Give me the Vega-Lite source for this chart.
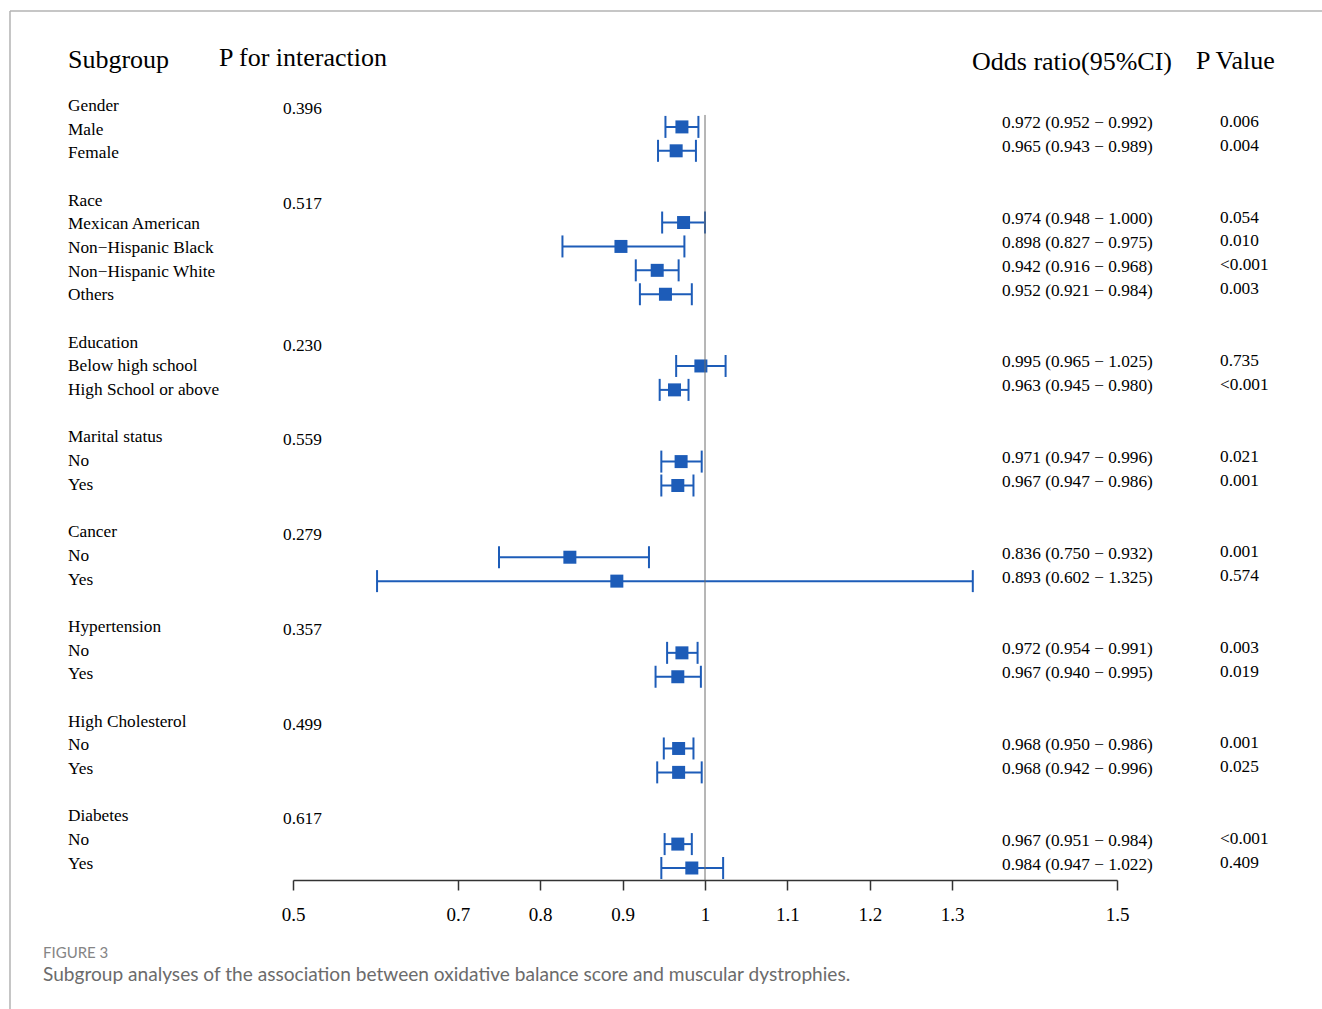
{
  "$schema": "https://vega.github.io/schema/vega-lite/v6.json",
  "width": 1322,
  "height": 880,
  "autosize": {"type": "none"},
  "padding": {"left": 0, "top": 0, "right": 0, "bottom": 129},
  "background": "white",
  "config": {
    "view": {"stroke": null},
    "axisX": {"grid": false, "domainColor": "#333333", "domainWidth": 1.5, "tickColor": "#333333", "tickWidth": 1.5, "tickSize": 10,
      "labelFont": "Liberation Serif", "labelFontSize": 19, "labelColor": "#000000", "labelPadding": 15, "labelFlush": false, "labelOverlap": false}
  },
  "datasets": {
    "labels": [
      {"row": 0, "label": "Gender"}, {"row": 1, "label": "Male"}, {"row": 2, "label": "Female"},
      {"row": 4, "label": "Race"}, {"row": 5, "label": "Mexican American"}, {"row": 6, "label": "Non−Hispanic Black"}, {"row": 7, "label": "Non−Hispanic White"}, {"row": 8, "label": "Others"},
      {"row": 10, "label": "Education"}, {"row": 11, "label": "Below high school"}, {"row": 12, "label": "High School or above"},
      {"row": 14, "label": "Marital status"}, {"row": 15, "label": "No"}, {"row": 16, "label": "Yes"},
      {"row": 18, "label": "Cancer"}, {"row": 19, "label": "No"}, {"row": 20, "label": "Yes"},
      {"row": 22, "label": "Hypertension"}, {"row": 23, "label": "No"}, {"row": 24, "label": "Yes"},
      {"row": 26, "label": "High Cholesterol"}, {"row": 27, "label": "No"}, {"row": 28, "label": "Yes"},
      {"row": 30, "label": "Diabetes"}, {"row": 31, "label": "No"}, {"row": 32, "label": "Yes"}
    ],
    "pint": [
      {"row": 0, "p": "0.396"}, {"row": 4, "p": "0.517"}, {"row": 10, "p": "0.230"}, {"row": 14, "p": "0.559"},
      {"row": 18, "p": "0.279"}, {"row": 22, "p": "0.357"}, {"row": 26, "p": "0.499"}, {"row": 30, "p": "0.617"}
    ],
    "est": [
      {"row": 1, "or": 0.972, "lo": 0.952, "hi": 0.992, "ci": "0.972 (0.952 − 0.992)", "p": "0.006"},
      {"row": 2, "or": 0.965, "lo": 0.943, "hi": 0.989, "ci": "0.965 (0.943 − 0.989)", "p": "0.004"},
      {"row": 5, "or": 0.974, "lo": 0.948, "hi": 1.000, "ci": "0.974 (0.948 − 1.000)", "p": "0.054"},
      {"row": 6, "or": 0.898, "lo": 0.827, "hi": 0.975, "ci": "0.898 (0.827 − 0.975)", "p": "0.010"},
      {"row": 7, "or": 0.942, "lo": 0.916, "hi": 0.968, "ci": "0.942 (0.916 − 0.968)", "p": "<0.001"},
      {"row": 8, "or": 0.952, "lo": 0.921, "hi": 0.984, "ci": "0.952 (0.921 − 0.984)", "p": "0.003"},
      {"row": 11, "or": 0.995, "lo": 0.965, "hi": 1.025, "ci": "0.995 (0.965 − 1.025)", "p": "0.735"},
      {"row": 12, "or": 0.963, "lo": 0.945, "hi": 0.980, "ci": "0.963 (0.945 − 0.980)", "p": "<0.001"},
      {"row": 15, "or": 0.971, "lo": 0.947, "hi": 0.996, "ci": "0.971 (0.947 − 0.996)", "p": "0.021"},
      {"row": 16, "or": 0.967, "lo": 0.947, "hi": 0.986, "ci": "0.967 (0.947 − 0.986)", "p": "0.001"},
      {"row": 19, "or": 0.836, "lo": 0.750, "hi": 0.932, "ci": "0.836 (0.750 − 0.932)", "p": "0.001"},
      {"row": 20, "or": 0.893, "lo": 0.602, "hi": 1.325, "ci": "0.893 (0.602 − 1.325)", "p": "0.574"},
      {"row": 23, "or": 0.972, "lo": 0.954, "hi": 0.991, "ci": "0.972 (0.954 − 0.991)", "p": "0.003"},
      {"row": 24, "or": 0.967, "lo": 0.940, "hi": 0.995, "ci": "0.967 (0.940 − 0.995)", "p": "0.019"},
      {"row": 27, "or": 0.968, "lo": 0.950, "hi": 0.986, "ci": "0.968 (0.950 − 0.986)", "p": "0.001"},
      {"row": 28, "or": 0.968, "lo": 0.942, "hi": 0.996, "ci": "0.968 (0.942 − 0.996)", "p": "0.025"},
      {"row": 31, "or": 0.967, "lo": 0.951, "hi": 0.984, "ci": "0.967 (0.951 − 0.984)", "p": "<0.001"},
      {"row": 32, "or": 0.984, "lo": 0.947, "hi": 1.022, "ci": "0.984 (0.947 − 1.022)", "p": "0.409"}
    ]
  },
  "layer": [
    {
      "data": {"name": "est"},
      "mark": {"type": "rule", "color": "#1d5cb8", "strokeWidth": 2},
      "encoding": {
        "x": {"field": "lo", "type": "quantitative",
          "scale": {"domain": [0.5, 1.5], "range": [293, 1117], "zero": false, "nice": false},
          "axis": {"values": [0.5, 0.7, 0.8, 0.9, 1, 1.1, 1.2, 1.3, 1.5], "format": "~g", "title": null}},
        "x2": {"field": "hi"},
        "y": {"field": "row", "type": "quantitative", "scale": {"domain": [0, 32], "range": [103, 868], "zero": false, "nice": false}, "axis": null}
      }
    },
    {
      "data": {"name": "est"},
      "mark": {"type": "tick", "orient": "vertical", "color": "#1d5cb8", "size": 22, "thickness": 2, "opacity": 1},
      "encoding": {
        "x": {"field": "lo", "type": "quantitative", "axis": {"values": [0.5, 0.7, 0.8, 0.9, 1, 1.1, 1.2, 1.3, 1.5], "format": "~g", "title": null}},
        "y": {"field": "row", "type": "quantitative", "scale": {"domain": [0, 32], "range": [103, 868], "zero": false, "nice": false}, "axis": null}
      }
    },
    {
      "data": {"name": "est"},
      "mark": {"type": "tick", "orient": "vertical", "color": "#1d5cb8", "size": 22, "thickness": 2, "opacity": 1},
      "encoding": {
        "x": {"field": "hi", "type": "quantitative", "axis": {"values": [0.5, 0.7, 0.8, 0.9, 1, 1.1, 1.2, 1.3, 1.5], "format": "~g", "title": null}},
        "y": {"field": "row", "type": "quantitative", "scale": {"domain": [0, 32], "range": [103, 868], "zero": false, "nice": false}, "axis": null}
      }
    },
    {
      "data": {"name": "est"},
      "mark": {"type": "point", "shape": "square", "filled": true, "color": "#1d5cb8", "size": 169, "opacity": 1},
      "encoding": {
        "x": {"field": "or", "type": "quantitative", "axis": {"values": [0.5, 0.7, 0.8, 0.9, 1, 1.1, 1.2, 1.3, 1.5], "format": "~g", "title": null}},
        "y": {"field": "row", "type": "quantitative", "scale": {"domain": [0, 32], "range": [103, 868], "zero": false, "nice": false}, "axis": null}
      }
    },
    {
      "data": {"name": "est"},
      "mark": {"type": "text", "align": "left", "baseline": "alphabetic", "font": "Liberation Serif", "fontSize": 17.3, "color": "#000000", "dy": 1.5},
      "encoding": {
        "x": {"datum": 1.36044},
        "y": {"field": "row", "type": "quantitative", "scale": {"domain": [0, 32], "range": [103, 868], "zero": false, "nice": false}, "axis": null},
        "text": {"field": "ci"}
      }
    },
    {
      "data": {"name": "est"},
      "mark": {"type": "text", "align": "left", "baseline": "alphabetic", "font": "Liberation Serif", "fontSize": 17.3, "color": "#000000"},
      "encoding": {
        "x": {"datum": 1.625},
        "y": {"field": "row", "type": "quantitative", "scale": {"domain": [0, 32], "range": [103, 868], "zero": false, "nice": false}, "axis": null},
        "text": {"field": "p"}
      }
    },
    {
      "data": {"name": "labels"},
      "mark": {"type": "text", "align": "left", "baseline": "alphabetic", "font": "Liberation Serif", "fontSize": 17.3, "color": "#000000"},
      "encoding": {
        "x": {"datum": 0.22694},
        "y": {"field": "row", "type": "quantitative", "scale": {"domain": [0, 32], "range": [111, 868.64], "zero": false, "nice": false}, "axis": null},
        "text": {"field": "label"}
      }
    },
    {
      "data": {"name": "pint"},
      "mark": {"type": "text", "align": "left", "baseline": "alphabetic", "font": "Liberation Serif", "fontSize": 17.3, "color": "#000000", "dy": 3},
      "encoding": {
        "x": {"datum": 0.48786},
        "y": {"field": "row", "type": "quantitative", "scale": {"domain": [0, 32], "range": [111, 868.64], "zero": false, "nice": false}, "axis": null},
        "text": {"field": "p"}
      }
    },
    {
      "data": {"values": [{"h": "Subgroup"}]},
      "mark": {"type": "text", "align": "left", "baseline": "alphabetic", "font": "Liberation Serif", "fontSize": 26, "color": "#000000"},
      "encoding": {
        "x": {"datum": 0.22694},
        "y": {"datum": -1.464, "scale": {"domain": [0, 32], "range": [103, 868], "zero": false, "nice": false}, "axis": null},
        "text": {"field": "h"}
      }
    },
    {
      "data": {"values": [{"h": "P for interaction"}]},
      "mark": {"type": "text", "align": "left", "baseline": "alphabetic", "font": "Liberation Serif", "fontSize": 26, "color": "#000000"},
      "encoding": {
        "x": {"datum": 0.41019},
        "y": {"datum": -1.535, "scale": {"domain": [0, 32], "range": [103, 868], "zero": false, "nice": false}, "axis": null},
        "text": {"field": "h"}
      }
    },
    {
      "data": {"values": [{"h": "Odds ratio(95%CI)"}]},
      "mark": {"type": "text", "align": "left", "baseline": "alphabetic", "font": "Liberation Serif", "fontSize": 26, "color": "#000000"},
      "encoding": {
        "x": {"datum": 1.32403},
        "y": {"datum": -1.394, "scale": {"domain": [0, 32], "range": [103, 868], "zero": false, "nice": false}, "axis": null},
        "text": {"field": "h"}
      }
    },
    {
      "data": {"values": [{"h": "P Value"}]},
      "mark": {"type": "text", "align": "left", "baseline": "alphabetic", "font": "Liberation Serif", "fontSize": 26, "color": "#000000"},
      "encoding": {
        "x": {"datum": 1.59587},
        "y": {"datum": -1.423, "scale": {"domain": [0, 32], "range": [103, 868], "zero": false, "nice": false}, "axis": null},
        "text": {"field": "h"}
      }
    },
    {
      "data": {"values": [{}]},
      "mark": {"type": "rule", "color": "#6e6e6e", "strokeWidth": 1},
      "encoding": {
        "x": {"datum": 1},
        "y": {"datum": 0.5, "scale": {"domain": [0, 32], "range": [103, 868], "zero": false, "nice": false}, "axis": null},
        "y2": {"datum": 32.51}
      }
    },
    {
      "data": {"values": [{}]},
      "mark": {"type": "rule", "color": "#b3b3b3", "strokeWidth": 1.5},
      "encoding": {
        "x": {"datum": 0.15655},
        "x2": {"datum": 1.8},
        "y": {"datum": -3.849, "scale": {"domain": [0, 32], "range": [103, 868], "zero": false, "nice": false}, "axis": null}
      }
    },
    {
      "data": {"values": [{}]},
      "mark": {"type": "rule", "color": "#b3b3b3", "strokeWidth": 1.5},
      "encoding": {
        "x": {"datum": 0.15655},
        "y": {"datum": -3.849, "scale": {"domain": [0, 32], "range": [103, 868], "zero": false, "nice": false}, "axis": null},
        "y2": {"datum": 38.5}
      }
    },
    {
      "data": {"values": [{"t": "FIGURE 3"}]},
      "mark": {"type": "text", "align": "left", "baseline": "alphabetic", "font": "Lato", "fontSize": 15, "color": "#858585"},
      "encoding": {
        "x": {"datum": 0.1966},
        "y": {"datum": 35.753, "scale": {"domain": [0, 32], "range": [103, 868], "zero": false, "nice": false}, "axis": null},
        "text": {"field": "t"}
      }
    },
    {
      "data": {"values": [{"t": "Subgroup analyses of the association between oxidative balance score and muscular dystrophies."}]},
      "mark": {"type": "text", "align": "left", "baseline": "alphabetic", "font": "Lato", "fontSize": 19.1, "color": "#6b6b6b"},
      "encoding": {
        "x": {"datum": 0.1966},
        "y": {"datum": 36.736, "scale": {"domain": [0, 32], "range": [103, 868], "zero": false, "nice": false}, "axis": null},
        "text": {"field": "t"}
      }
    }
  ],
  "resolve": {"scale": {"y": "independent"}}
}
